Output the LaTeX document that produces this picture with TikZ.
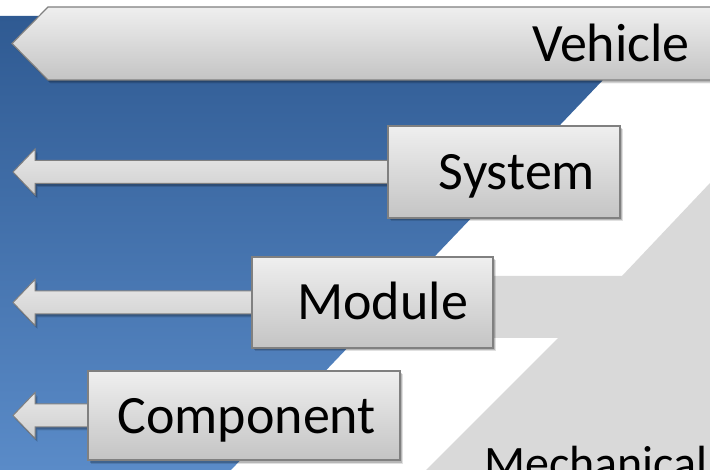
\documentclass[tikz,border=0pt]{standalone}
\usepackage{fontspec}
\setmainfont{Carlito}
\usetikzlibrary{calc,shadows}

\definecolor{bluetop}{HTML}{2F5A92}
\definecolor{bluebot}{HTML}{5A8BC8}
\definecolor{stepgray}{HTML}{D9D9D9}
\definecolor{boxtop}{HTML}{EFEFEF}
\definecolor{boxbot}{HTML}{C4C4C4}
\definecolor{arrtop}{HTML}{E8E8E8}
\definecolor{arrbot}{HTML}{CFCFCF}
\definecolor{boxline}{HTML}{808080}

\pgfdeclarelayer{back}
\pgfdeclarelayer{arrows}
\pgfsetlayers{back,arrows,main}

\tikzset{
  softshadow/.style={
    drop shadow={shadow xshift=2.5pt, shadow yshift=-3.5pt, opacity=0.12, fill=black},
    drop shadow={shadow xshift=1.5pt, shadow yshift=-2.5pt, opacity=0.18, fill=black}},
  levelbox/.style={rectangle, draw=boxline, line width=1.2pt,
      top color=boxtop, bottom color=boxbot, softshadow,
      inner ysep=0pt, align=right, text height=35pt, text depth=0pt,
      font=\fontsize{54}{60}\selectfont},
  arrowbody/.style={draw=boxline, line width=1pt,
      top color=arrtop, bottom color=arrbot, softshadow},
  bigtext/.style={inner sep=0pt, font=\fontsize{54}{60}\selectfont},
}

% left-pointing arrow from the west side of a box (#1) to a tip (#2)
\newcommand\levelarrow[2]{%
  \path[arrowbody] ($(#1.west)+(2,-11.5)$) -- ($(#2)+(22,-11.5)$)
    -- ($(#2)+(22,-23)$) -- (#2) -- ($(#2)+(22,23)$)
    -- ($(#2)+(22,11.5)$) -- ($(#1.west)+(2,11.5)$) -- cycle;}

\begin{document}
\begin{tikzpicture}[x=1pt,y=-1pt]
  \useasboundingbox (0,0) rectangle (710,470);

  \begin{pgfonlayer}{back}
    \fill[white] (0,0) rectangle (710,470);
    % blue field with the diagonal right edge
    \path[top color=bluetop, bottom color=bluebot]
      (0,16) -- (664,16) -- (231,470) -- (0,470) -- cycle;
    % gray stepped band
    \fill[stepgray] (710,183) -- (622,276) -- (420,276) -- (420,338)
      -- (558,338) -- (426,470) -- (710,470) -- cycle;
  \end{pgfonlayer}

  % top level bar
  \path[top color=boxtop, bottom color=boxbot, draw=boxline, line width=1.2pt, softshadow]
    (12,43.5) -- (48,7) -- (730,7) -- (730,80) -- (48,80) -- cycle;
  \node[bigtext, anchor=base east] (vehicle) at (690,62) {Vehicle};

  % lower levels
  \node[levelbox, inner xsep=25pt, text width=182pt, minimum height=92pt]
    (sys) at (504,172) {System};
  \node[levelbox, inner xsep=25pt, text width=191pt, minimum height=91pt]
    (mod) at (372.5,302.5) {Module};
  \node[levelbox, inner xsep=24pt, text width=264pt, minimum height=89pt]
    (comp) at (244,415.5) {Component};

  \coordinate (sysTip)  at (13,0 |- sys.west);
  \coordinate (modTip)  at (13,0 |- mod.west);
  \coordinate (compTip) at (13,0 |- comp.west);

  \begin{pgfonlayer}{arrows}
    \levelarrow{sys}{sysTip}
    \levelarrow{mod}{modTip}
    \levelarrow{comp}{compTip}
  \end{pgfonlayer}

  \node[inner sep=0pt, anchor=base west, font=\fontsize{48}{52}\selectfont]
    (mech) at (484,479) {Mechanical};
\end{tikzpicture}
\end{document}
